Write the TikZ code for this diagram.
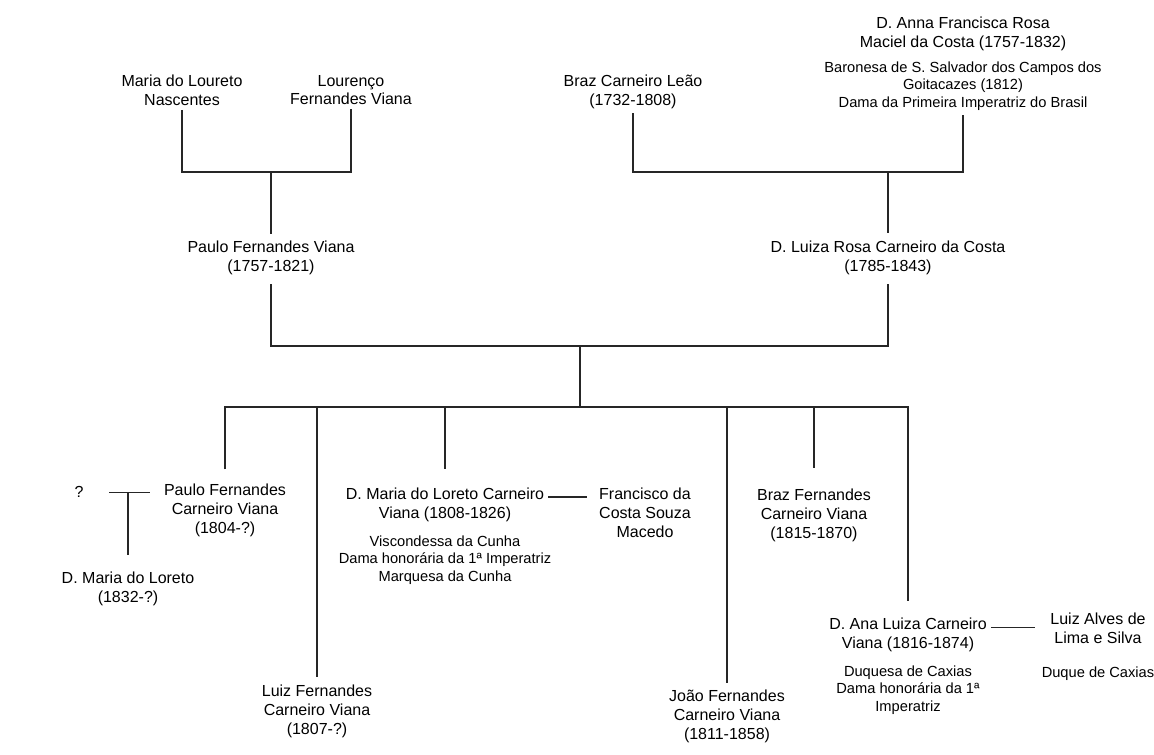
\documentclass[tikz,border=0pt]{standalone}
\usepackage{fontspec}
\setmainfont{Liberation Sans}
\usepackage{tikz}
\usetikzlibrary{positioning}

\newcommand{\namesize}{\fontsize{12}{14}\selectfont}
\newcommand{\titlesize}{\fontsize{11}{13}\selectfont}

\begin{document}
\begin{tikzpicture}[
  x=0.75pt, y=-0.75pt,
  person/.style={align=center, inner sep=3pt, font=\namesize},
  honours/.style={align=center, inner sep=3pt, font=\titlesize},
  link/.style={draw=black!85, line width=0.9pt}
]
\useasboundingbox (0,0) rectangle (1154,755);

% grandparents
\node[person, anchor=north] (maria) at (182,71) {Maria do Loureto\\Nascentes};
\node[person, anchor=north] (lourenco) at (351,71) {Lourenço\\Fernandes Viana};
\node[person, anchor=north] (braz) at (633,71) {Braz Carneiro Leão\\(1732-1808)};
\node[person, anchor=north] (anna) at (963,13) {D. Anna Francisca Rosa\\Maciel da Costa (1757-1832)};
\node[honours, below=2pt of anna] (annaT) {Baronesa de S. Salvador dos Campos dos\\Goitacazes (1812)\\Dama da Primeira Imperatriz do Brasil};

% parents
\node[person, anchor=north] (paulo) at (271,237) {Paulo Fernandes Viana\\(1757-1821)};
\node[person, anchor=north] (luiza) at (888,237) {D. Luiza Rosa Carneiro da Costa\\(1785-1843)};

% children
\node[person, anchor=north] (pfcv) at (225,480) {Paulo Fernandes\\Carneiro Viana\\(1804-?)};
\node[person, anchor=base] (spouse1) at (79,498) {?};
\node[person, anchor=north] (dml) at (128,568) {D. Maria do Loreto\\(1832-?)};
\node[person, anchor=north] (luiz) at (317,681) {Luiz Fernandes\\Carneiro Viana\\(1807-?)};
\node[person, anchor=north] (dmlc) at (445,484) {D. Maria do Loreto Carneiro\\Viana (1808-1826)};
\node[honours, below=4pt of dmlc] (dmlcT) {Viscondessa da Cunha\\Dama honorária da 1ª Imperatriz\\Marquesa da Cunha};
\node[person, anchor=north] (fcsm) at (645,484) {Francisco da\\Costa Souza\\Macedo};
\node[person, anchor=north] (joao) at (727,686) {João Fernandes\\Carneiro Viana\\(1811-1858)};
\node[person, anchor=north] (bfcv) at (814,485) {Braz Fernandes\\Carneiro Viana\\(1815-1870)};
\node[person, anchor=north] (dalcv) at (908,614) {D. Ana Luiza Carneiro\\Viana (1816-1874)};
\node[honours, below=4pt of dalcv] (dalcvT) {Duquesa de Caxias\\Dama honorária da 1ª\\Imperatriz};
\node[person, anchor=north] (lals) at (1098,609) {Luiz Alves de\\Lima e Silva};
\node[honours, below=11pt of lals] (lalsT) {Duque de Caxias};

% family bars
\coordinate (top1) at (271,172);
\coordinate (top2) at (888,172);
\coordinate (mid) at (580,346);
\coordinate (kids) at (580,407);

\draw[link] (maria.south) |- (top1) -| (lourenco.south);
\draw[link, shorten >=2pt] (top1) -- (paulo.north);
\draw[link] (braz.south) |- (top2) -| (annaT.south);
\draw[link, shorten >=3pt] (top2) -- (luiza.north);
\draw[link, shorten <=4pt, shorten >=4pt] (paulo.south) |- (mid) -| (luiza.south);
\draw[link] (mid) -- (kids);
\draw[link, shorten <=8pt, shorten >=10pt] (pfcv.north) |- (kids) -| (dalcv.north);
\foreach \kid/\gap in {luiz/3pt, dmlc/11pt, joao/2pt, bfcv/13pt}
  \draw[link, shorten >=\gap] (kids -| \kid.north) -- (\kid.north);

% marriages
\draw[link, shorten <=16pt, shorten >=7pt] (spouse1.east) -- (spouse1.east -| pfcv.west);
\draw[link, shorten >=10pt] (spouse1.east -| dml.north) -- (dml.north);
\draw[link, shorten >=6pt] ([yshift=6pt]dmlc.east) -- ([yshift=6pt]dmlc.east -| fcsm.west);
\draw[link, shorten >=8pt] ([yshift=5.5pt]dalcv.east) -- ([yshift=5.5pt]dalcv.east -| lals.west);

\end{tikzpicture}
\end{document}
